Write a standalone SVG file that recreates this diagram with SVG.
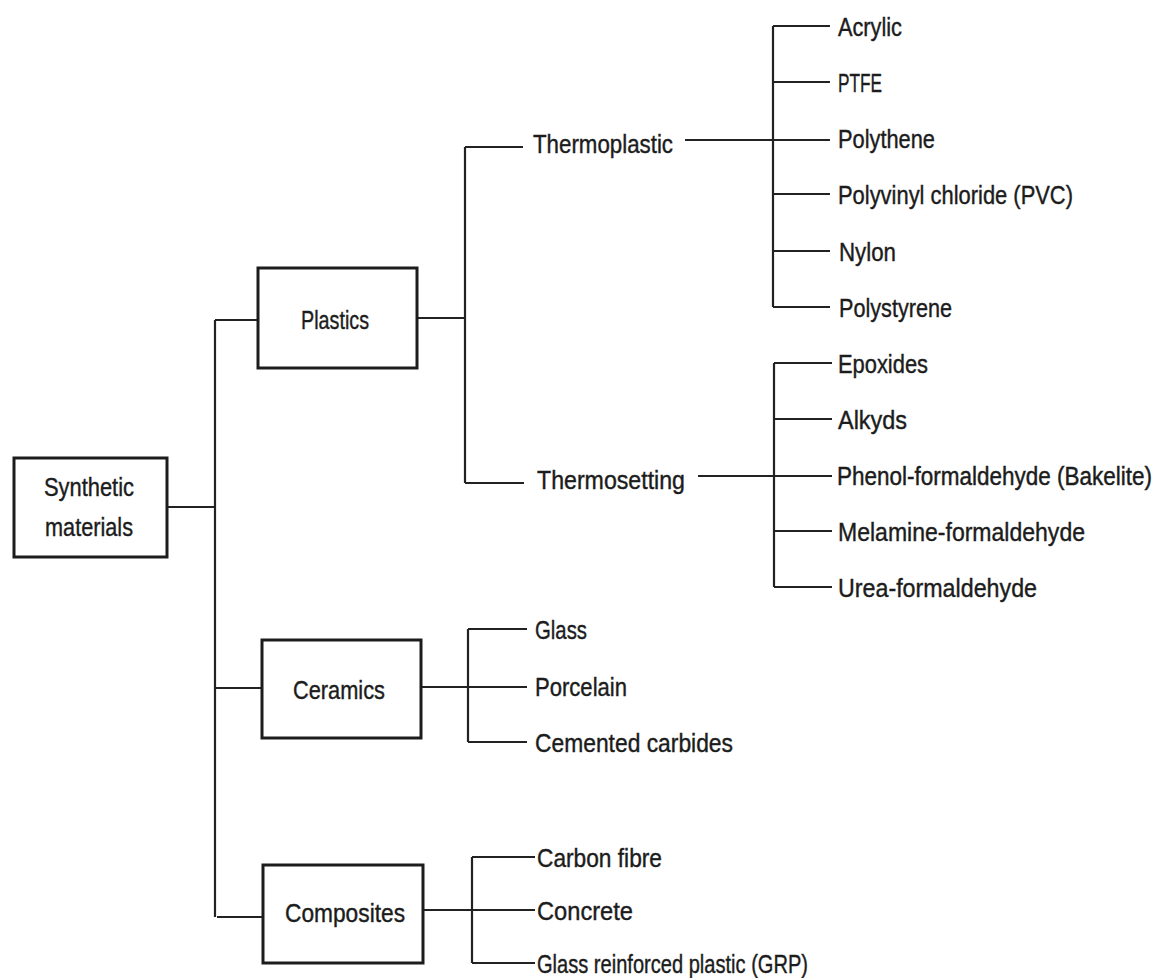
<svg xmlns="http://www.w3.org/2000/svg" width="1163" height="978" viewBox="0 0 1163 978">
  <style>
    .box { fill: #ffffff; stroke: #1c1c1c; stroke-width: 3; }
    .wire { fill: none; stroke: #222222; stroke-width: 2.2; }
    text { font-family: "Liberation Sans", Arial, sans-serif; font-size: 26px; fill: #1c1c1c; stroke: #1c1c1c; stroke-width: 0.4; }
    .mid { text-anchor: middle; }
    .tall { font-size: 22.5px; }
  </style>
  <rect width="1163" height="978" fill="#ffffff"/>

  <!-- connectors -->
  <g id="connectors">
    <!-- root to trunk -->
    <path class="wire" d="M167 507 H215"/>
    <path class="wire" d="M215 320 V917"/>
    <path class="wire" d="M215 320 H258"/>
    <path class="wire" d="M215 688 H262"/>
    <path class="wire" d="M217 917 H263"/>

    <!-- plastics split -->
    <path class="wire" d="M417 318 H465"/>
    <path class="wire" d="M465 147 V483"/>
    <path class="wire" d="M465 147 H523"/>
    <path class="wire" d="M465 483 H524"/>

    <!-- thermoplastic leaves -->
    <path class="wire" d="M685 140 H830"/>
    <path class="wire" d="M773 26 V307"/>
    <path class="wire" d="M773 26 H830"/>
    <path class="wire" d="M773 82 H830"/>
    <path class="wire" d="M773 194 H830"/>
    <path class="wire" d="M773 251 H830"/>
    <path class="wire" d="M773 307 H830"/>

    <!-- thermosetting leaves -->
    <path class="wire" d="M698 476 H832"/>
    <path class="wire" d="M774 363 V587"/>
    <path class="wire" d="M774 363 H832"/>
    <path class="wire" d="M774 419 H832"/>
    <path class="wire" d="M774 531 H832"/>
    <path class="wire" d="M774 587 H832"/>

    <!-- ceramics leaves -->
    <path class="wire" d="M421 687 H527"/>
    <path class="wire" d="M468 629 V742"/>
    <path class="wire" d="M468 629 H527"/>
    <path class="wire" d="M468 742 H527"/>

    <!-- composites leaves -->
    <path class="wire" d="M423 910 H535"/>
    <path class="wire" d="M472 857 V963"/>
    <path class="wire" d="M472 857 H535"/>
    <path class="wire" d="M472 963 H535"/>
  </g>

  <!-- boxed nodes -->
  <g id="synthetic-materials">
    <rect class="box" x="14" y="458" width="153" height="99"/>
    <text class="mid" x="89" y="496" textLength="90" lengthAdjust="spacingAndGlyphs">Synthetic</text>
    <text class="mid" x="89" y="536" textLength="88" lengthAdjust="spacingAndGlyphs">materials</text>
  </g>
  <g id="plastics">
    <rect class="box" x="258" y="268" width="159" height="100"/>
    <text class="mid" x="335" y="329" textLength="68" lengthAdjust="spacingAndGlyphs">Plastics</text>
  </g>
  <g id="ceramics">
    <rect class="box" x="262" y="640" width="159" height="98"/>
    <text class="mid" x="339" y="699" textLength="92" lengthAdjust="spacingAndGlyphs">Ceramics</text>
  </g>
  <g id="composites">
    <rect class="box" x="263" y="865" width="160" height="98"/>
    <text class="mid" x="345" y="922" textLength="120" lengthAdjust="spacingAndGlyphs">Composites</text>
  </g>

  <!-- plastic sub-groups -->
  <g id="thermoplastic">
    <text x="533" y="153" textLength="140" lengthAdjust="spacingAndGlyphs">Thermoplastic</text>
  </g>
  <g id="thermosetting">
    <text x="537" y="489" textLength="148" lengthAdjust="spacingAndGlyphs">Thermosetting</text>
  </g>

  <!-- thermoplastic materials -->
  <g id="acrylic"><text x="838" y="36" textLength="64" lengthAdjust="spacingAndGlyphs">Acrylic</text></g>
  <g id="ptfe"><text x="838" y="92" textLength="44" lengthAdjust="spacingAndGlyphs">PTFE</text></g>
  <g id="polythene"><text x="838" y="148" textLength="97" lengthAdjust="spacingAndGlyphs">Polythene</text></g>
  <g id="pvc"><text x="838" y="204" textLength="235" lengthAdjust="spacingAndGlyphs">Polyvinyl chloride (PVC)</text></g>
  <g id="nylon"><text x="839" y="261" textLength="57" lengthAdjust="spacingAndGlyphs">Nylon</text></g>
  <g id="polystyrene"><text x="839" y="317" textLength="113" lengthAdjust="spacingAndGlyphs">Polystyrene</text></g>

  <!-- thermosetting materials -->
  <g id="epoxides"><text x="838" y="373" textLength="90" lengthAdjust="spacingAndGlyphs">Epoxides</text></g>
  <g id="alkyds"><text x="838" y="429" textLength="69" lengthAdjust="spacingAndGlyphs">Alkyds</text></g>
  <!-- longest label: smaller face stretched vertically so it stays inside the right edge -->
  <g id="phenol-formaldehyde"><text class="tall" transform="translate(837 485) scale(1 1.16)" x="0" y="0" textLength="315" lengthAdjust="spacingAndGlyphs">Phenol-formaldehyde (Bakelite)</text></g>
  <g id="melamine-formaldehyde"><text x="838" y="541" textLength="247" lengthAdjust="spacingAndGlyphs">Melamine-formaldehyde</text></g>
  <g id="urea-formaldehyde"><text x="838" y="597" textLength="199" lengthAdjust="spacingAndGlyphs">Urea-formaldehyde</text></g>

  <!-- ceramic materials -->
  <g id="glass"><text x="535" y="639" textLength="52" lengthAdjust="spacingAndGlyphs">Glass</text></g>
  <g id="porcelain"><text x="535" y="696" textLength="92" lengthAdjust="spacingAndGlyphs">Porcelain</text></g>
  <g id="cemented-carbides"><text x="535" y="752" textLength="198" lengthAdjust="spacingAndGlyphs">Cemented carbides</text></g>

  <!-- composite materials -->
  <g id="carbon-fibre"><text x="537" y="867" textLength="125" lengthAdjust="spacingAndGlyphs">Carbon fibre</text></g>
  <g id="concrete"><text x="537" y="920" textLength="96" lengthAdjust="spacingAndGlyphs">Concrete</text></g>
  <g id="grp"><text x="537" y="973" textLength="271" lengthAdjust="spacingAndGlyphs">Glass reinforced plastic (GRP)</text></g>
</svg>
